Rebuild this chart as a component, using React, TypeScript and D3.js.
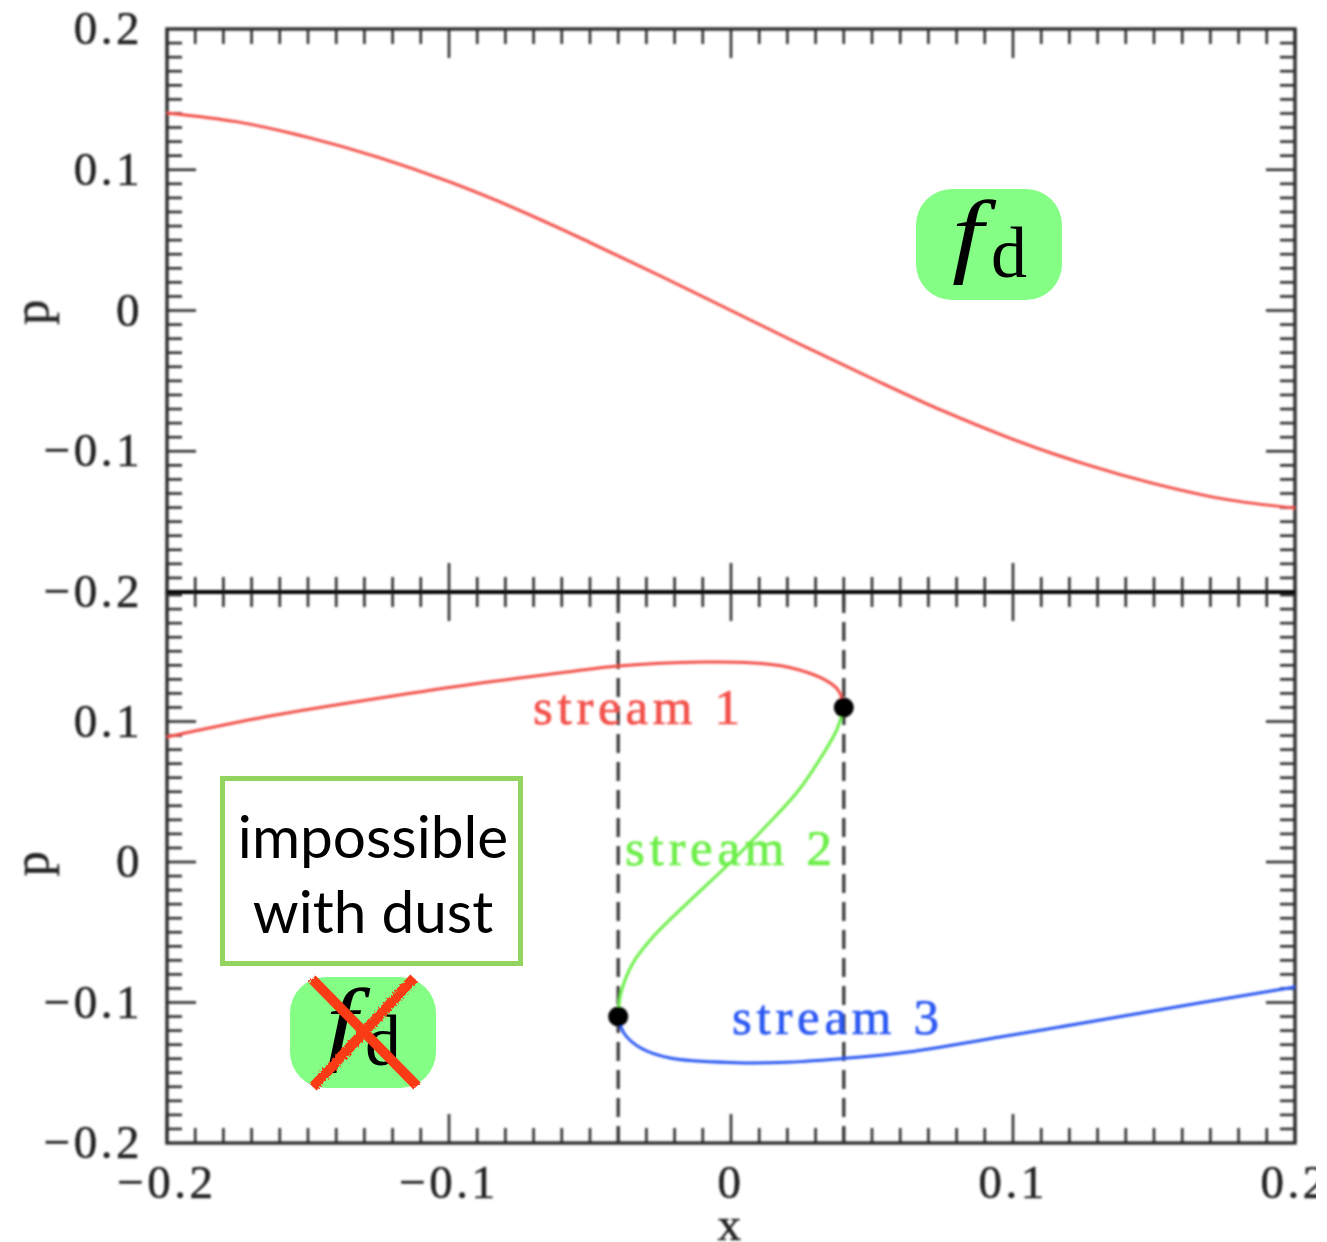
import { useEffect, useRef } from "react";
import * as d3 from "d3";

const xTicks = [-0.2, -0.1, 0, 0.1, 0.2];
const pTicks = [-0.2, -0.1, 0, 0.1, 0.2];
const tickLabels = ["\u22120.2", "\u22120.1", "0", "0.1", "0.2"];

// top panel, single valued
const topX = [-0.2, -0.175, -0.15, -0.125, -0.1, -0.075, -0.05, -0.025, 0, 0.025, 0.05, 0.075, 0.1, 0.125, 0.15, 0.175, 0.2];
const topP = [0.1404, 0.134, 0.123, 0.1088, 0.0915, 0.0712, 0.0483, 0.0245, 0, -0.0245, -0.0483, -0.0712, -0.0915, -0.1088, -0.123, -0.134, -0.1404];

// bottom panel, the three streams
const stream1X = [-0.2, -0.1645, -0.129, -0.0936, -0.0582, -0.04, -0.01, 0.008, 0.02, 0.032, 0.038, 0.04];
const stream1P = [0.089, 0.1035, 0.1153, 0.126, 0.1352, 0.1395, 0.1423, 0.1416, 0.1388, 0.131, 0.1224, 0.11];
const stream2X = [0.04, 0.0375, 0.032, 0.0235, 0.0128, 0.0007, -0.0156, -0.0277, -0.0348, -0.039, -0.04];
const stream2P = [0.11, 0.094, 0.0747, 0.0498, 0.0263, 0.0014, -0.0295, -0.0534, -0.072, -0.093, -0.11];
const stream3X = [-0.04, -0.038, -0.032, -0.0216, 0.002, 0.02, 0.039, 0.06, 0.0954, 0.131, 0.166, 0.2];
const stream3P = [-0.11, -0.1217, -0.1324, -0.1395, -0.1428, -0.1425, -0.14, -0.136, -0.1246, -0.1125, -0.1004, -0.089];

const turnX = [0.04, -0.04];
const turnP = [0.11, -0.11];

const RED = "#f2504a";
const GREEN = "#6cee48";
const BLUE = "#2c58f2";
const TICK_FONT = "'Liberation Serif', serif";

export default function App() {
  const ref = useRef<SVGSVGElement>(null);

  useEffect(() => {
    const svg = d3.select(ref.current);
    svg.selectAll("*").remove();

    const defs = svg.append("defs");
    defs
      .append("filter")
      .attr("id", "soft")
      .attr("filterUnits", "userSpaceOnUse")
      .attr("x", 0)
      .attr("y", 0)
      .attr("width", 1327)
      .attr("height", 1242)
      .append("feGaussianBlur")
      .attr("stdDeviation", 1);
    const rough = defs
      .append("filter")
      .attr("id", "rough")
      .attr("filterUnits", "userSpaceOnUse")
      .attr("x", 0)
      .attr("y", 0)
      .attr("width", 1327)
      .attr("height", 1242);
    rough
      .append("feTurbulence")
      .attr("type", "fractalNoise")
      .attr("baseFrequency", 0.5)
      .attr("numOctaves", 2)
      .attr("seed", 3);
    rough
      .append("feDisplacementMap")
      .attr("in", "SourceGraphic")
      .attr("scale", 4);

    const x = d3.scaleLinear().domain([-0.2, 0.2]).range([167, 1295]);
    const yTop = d3.scaleLinear().domain([-0.2, 0.2]).range([592, 29]);
    const yBot = d3.scaleLinear().domain([-0.2, 0.2]).range([1143, 581]);

    const plot = svg.append("g").attr("filter", "url(#soft)");

    /* =====================
       Frames and ticks
    ===================== */

    const minorX = x.ticks(40);
    const minorP = yTop.ticks(40);

    const panel = (y: d3.ScaleLinear<number, number>, top: number, bottom: number) => {
      const g = plot.append("g").attr("stroke", "#2e2e2e").attr("fill", "none");

      minorX.forEach((v) => {
        const len = xTicks.some((t) => Math.abs(t - v) < 1e-6) ? 29 : 15;
        g.append("line")
          .attr("x1", x(v))
          .attr("x2", x(v))
          .attr("y1", top)
          .attr("y2", top + len)
          .attr("stroke-width", 2.6);
        g.append("line")
          .attr("x1", x(v))
          .attr("x2", x(v))
          .attr("y1", bottom)
          .attr("y2", bottom - len)
          .attr("stroke-width", 2.6);
      });

      minorP.forEach((v) => {
        const py = y(v);
        if (py < top + 1 || py > bottom - 1) return;
        const len = pTicks.some((t) => Math.abs(t - v) < 1e-6) ? 29 : 15;
        g.append("line")
          .attr("x1", 167)
          .attr("x2", 167 + len)
          .attr("y1", py)
          .attr("y2", py)
          .attr("stroke-width", 2.6);
        g.append("line")
          .attr("x1", 1295)
          .attr("x2", 1295 - len)
          .attr("y1", py)
          .attr("y2", py)
          .attr("stroke-width", 2.6);
      });

      g.append("rect")
        .attr("x", 167)
        .attr("y", top)
        .attr("width", 1128)
        .attr("height", bottom - top)
        .attr("stroke-width", 3.4);
    };

    panel(yTop, 29, 592);
    panel(yBot, 592, 1143);

    plot
      .append("line")
      .attr("x1", 167)
      .attr("x2", 1295)
      .attr("y1", 592)
      .attr("y2", 592)
      .attr("stroke", "#000")
      .attr("stroke-width", 3.4);

    /* =====================
       Tick labels
    ===================== */

    const labels = plot
      .append("g")
      .attr("fill", "#222")
      .attr("stroke", "#222")
      .attr("stroke-width", 0.5)
      .style("font-family", TICK_FONT)
      .style("font-size", "47px")
      .style("letter-spacing", "3.5px");

    pTicks.forEach((v, i) => {
      labels
        .append("text")
        .attr("x", 143)
        .attr("y", yTop(v) + 15)
        .attr("text-anchor", "end")
        .text(tickLabels[i]);
      if (v < 0.15) {
        labels
          .append("text")
          .attr("x", 143)
          .attr("y", yBot(v) + 15)
          .attr("text-anchor", "end")
          .text(tickLabels[i]);
      }
    });
    xTicks.forEach((v, i) => {
      labels
        .append("text")
        .attr("x", x(v))
        .attr("y", 1198)
        .attr("text-anchor", "middle")
        .text(tickLabels[i]);
    });

    labels
      .append("text")
      .attr("x", 731)
      .attr("y", 1240)
      .attr("text-anchor", "middle")
      .text("x");
    [yTop(0), yBot(0)].forEach((py) => {
      labels
        .append("text")
        .attr("transform", `translate(48, ${py}) rotate(-90)`)
        .attr("text-anchor", "middle")
        .style("font-size", "50px")
        .text("p");
    });

    /* =====================
       Curves
    ===================== */

    const curve = (
      xs: number[],
      ps: number[],
      y: d3.ScaleLinear<number, number>,
      color: string
    ) => {
      const line = d3
        .line<number>()
        .x((d) => x(d))
        .y((_, i) => y(ps[i]))
        .curve(d3.curveCatmullRom.alpha(0.5));
      plot
        .append("path")
        .attr("d", line(xs))
        .attr("fill", "none")
        .attr("stroke", color)
        .attr("stroke-width", 3);
    };

    turnX.forEach((v) => {
      plot
        .append("line")
        .attr("x1", x(v))
        .attr("x2", x(v))
        .attr("y1", 594)
        .attr("y2", 1143)
        .attr("stroke", "#333")
        .attr("stroke-width", 3.2)
        .attr("stroke-dasharray", "19 9");
    });

    curve(topX, topP, yTop, RED);
    curve(stream1X, stream1P, yBot, RED);
    curve(stream2X, stream2P, yBot, GREEN);
    curve(stream3X, stream3P, yBot, BLUE);

    turnX.forEach((v, i) => {
      plot
        .append("circle")
        .attr("cx", x(v))
        .attr("cy", yBot(turnP[i]))
        .attr("r", 10)
        .attr("fill", "#000");
    });

    const streamLabel = (text: string, lx: number, ly: number, color: string) => {
      plot
        .append("text")
        .attr("x", lx)
        .attr("y", ly)
        .attr("fill", color)
        .attr("stroke", color)
        .attr("stroke-width", 0.7)
        .style("font-family", TICK_FONT)
        .style("font-size", "51px")
        .attr("textLength", 207)
        .attr("lengthAdjust", "spacing")
        .text(text);
    };
    streamLabel("stream 1", 533, 724, RED);
    streamLabel("stream 2", 625, 865, GREEN);
    streamLabel("stream 3", 732, 1034, BLUE);

    /* =====================
       Overlays
    ===================== */

    const badge = (bx: number, by: number) => {
      svg
        .append("rect")
        .attr("x", bx)
        .attr("y", by)
        .attr("width", 146)
        .attr("height", 111)
        .attr("rx", 36)
        .attr("fill", "#85fe85");
      svg
        .append("text")
        .attr("transform", `translate(${bx + 36}, ${by + 76}) scale(1.2, 1)`)
        .attr("fill", "#000")
        .style("font-family", TICK_FONT)
        .style("font-style", "italic")
        .style("font-size", "94px")
        .text("f");
      svg
        .append("text")
        .attr("x", bx + 75)
        .attr("y", by + 88)
        .attr("fill", "#000")
        .style("font-family", TICK_FONT)
        .style("font-size", "72px")
        .text("d");
    };
    badge(916, 189);
    badge(290, 977);

    svg
      .append("rect")
      .attr("x", 222.5)
      .attr("y", 778.5)
      .attr("width", 298)
      .attr("height", 185)
      .attr("fill", "#fff")
      .attr("stroke", "#93d35f")
      .attr("stroke-width", 5);
    ["impossible", "with dust"].forEach((t, i) => {
      svg
        .append("text")
        .attr("x", 373)
        .attr("y", 858 + i * 75)
        .attr("text-anchor", "middle")
        .attr("fill", "#000")
        .style("font-family", "Lato, sans-serif")
        .style("font-size", "58.5px")
        .text(t);
    });

    const cross = svg.append("g").attr("filter", "url(#rough)").attr("stroke", "#fb3a12").attr("stroke-width", 10);
    cross.append("line").attr("x1", 312).attr("y1", 979).attr("x2", 417).attr("y2", 1086);
    cross.append("line").attr("x1", 414).attr("y1", 978).attr("x2", 313).attr("y2", 1087);
  }, []);

  return (
    <svg
      ref={ref}
      width={1316}
      height={1242}
      style={{ position: "absolute", left: 0, top: 0, background: "#fff" }}
    />
  );
}
